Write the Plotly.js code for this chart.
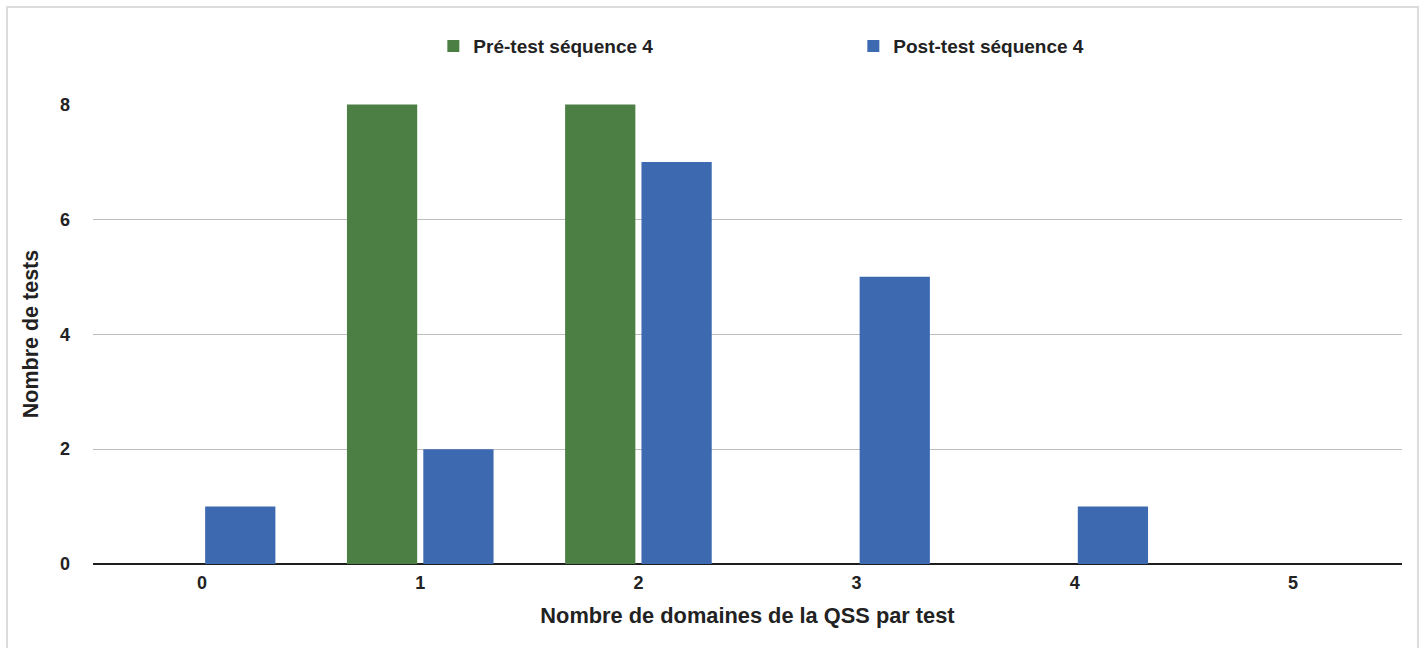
<!DOCTYPE html>
<html>
<head>
<meta charset="utf-8">
<script src="https://cdn.plot.ly/plotly-3.0.1.min.js"></script>
<style>
  html, body { margin: 0; padding: 0; background: #fff; }
  #wrap { position: relative; width: 1425px; height: 648px; overflow: hidden; }
  #chart { position: absolute; left: 0; top: 0; width: 1425px; height: 648px; }
  #frame { position: absolute; left: 6px; top: 6px; width: 1413px; height: 700px;
           border: 2px solid #dcdcdc; box-sizing: border-box; pointer-events: none; }
</style>
</head>
<body>
<div id="wrap">
  <div id="chart"></div>
  <div id="frame"></div>
</div>
<script>
const categories = ['0', '1', '2', '3', '4', '5'];
const preTest = [0, 8, 8, 0, 0, 0];
const postTest = [1, 2, 7, 5, 1, 0];
const seriesNames = ['Pré-test séquence 4', 'Post-test séquence 4'];
const yTicks = [0, 2, 4, 6, 8];

const FONT = '"Liberation Sans", Arial, Helvetica, sans-serif';
const TXT = '#222222';

const traces = [
  {
    type: 'bar', name: seriesNames[0], x: categories, y: preTest,
    marker: { color: '#4c7f44', line: { width: 0 } },
    hoverinfo: 'x+y+name'
  },
  {
    type: 'bar', name: seriesNames[1], x: categories, y: postTest,
    marker: { color: '#3d69b0', line: { width: 0 } },
    hoverinfo: 'x+y+name'
  }
];

const layout = {
  width: 1425, height: 648,
  margin: { l: 93, r: 23, t: 104, b: 84 },
  paper_bgcolor: 'rgba(0,0,0,0)', plot_bgcolor: '#ffffff',
  font: { family: FONT, color: TXT, size: 18 },
  barmode: 'group',
  bargap: 0.3,
  bargroupgap: 0.08,
  showlegend: true,
  legend: {
    orientation: 'h', x: 0.260, xanchor: 'left', y: 1.126, yanchor: 'middle',
    entrywidth: 375, entrywidthmode: 'pixels',
    font: { family: FONT, size: 19, color: TXT, weight: 'bold' },
    bgcolor: 'rgba(0,0,0,0)'
  },
  xaxis: {
    type: 'category',
    range: [-0.5, 5.5],
    showgrid: false, zeroline: false,
    showline: false,
    ticks: '',
    tickfont: { family: FONT, size: 18, color: TXT, weight: 'bold' },
    ticklabelstandoff: 6,
    title: { text: 'Nombre de domaines de la QSS par test', standoff: 15,
             font: { family: FONT, size: 21.8, color: TXT, weight: 'bold' } }
  },
  yaxis: {
    range: [0, 8.01],
    tickvals: yTicks,
    ticktext: yTicks.map(String),
    showgrid: true, gridcolor: '#bdbdbd', gridwidth: 1,
    zeroline: true, zerolinecolor: '#1e1e1e', zerolinewidth: 2,
    showline: false, ticks: '',
    tickfont: { family: FONT, size: 18, color: TXT, weight: 'bold' },
    ticklabelstandoff: 22,
    title: { text: 'Nombre de tests', standoff: 15,
             font: { family: FONT, size: 21.5, color: TXT, weight: 'bold' } }
  }
};

Plotly.newPlot('chart', traces, layout, { displayModeBar: false, staticPlot: true });
</script>
</body>
</html>
